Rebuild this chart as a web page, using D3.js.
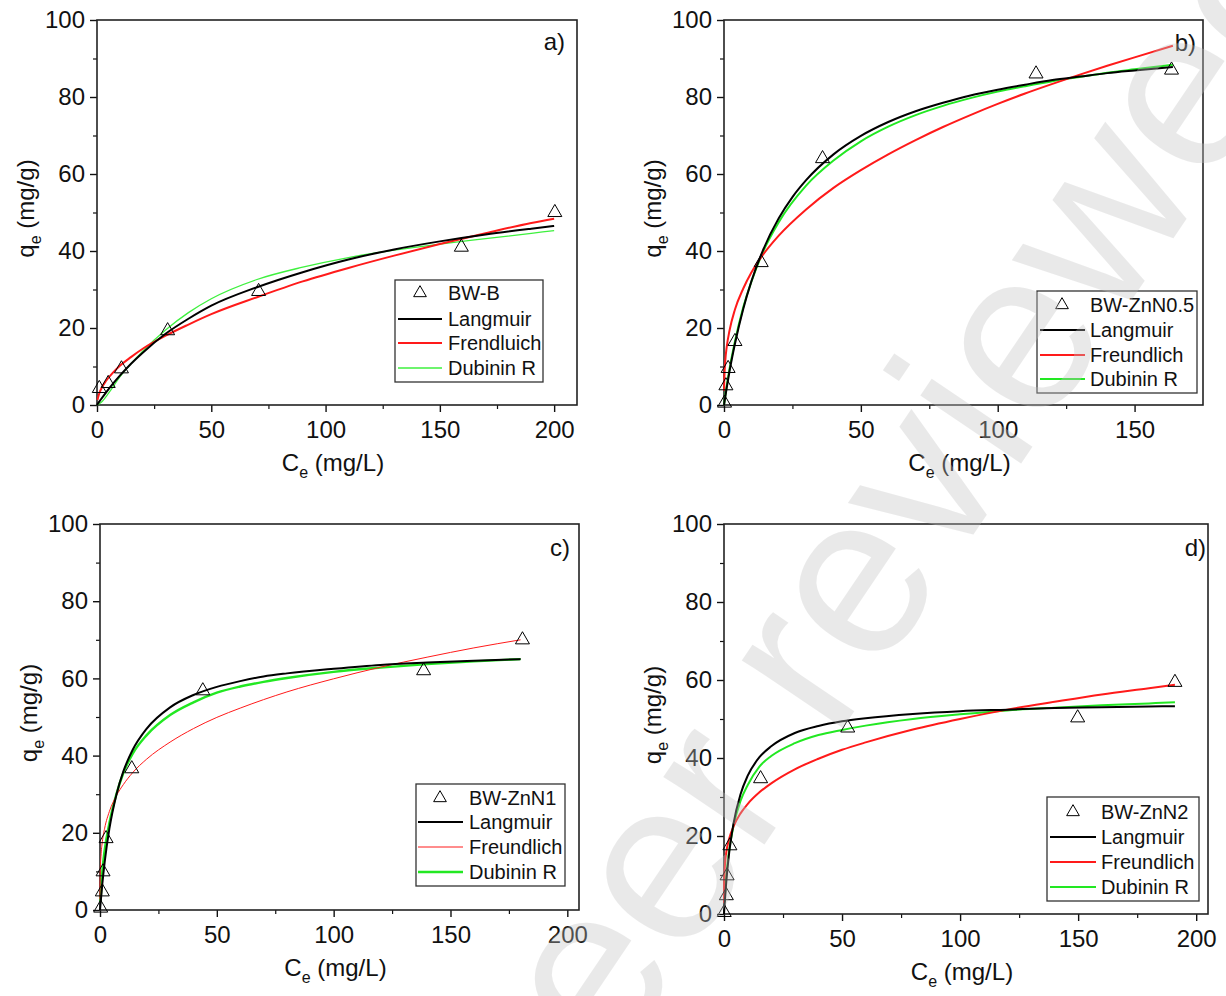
<!DOCTYPE html>
<html><head><meta charset="utf-8">
<script src="https://cdn.jsdelivr.net/npm/d3@7"></script>
<style>
body{margin:0;background:#fff}
svg{display:block}
text{font-family:"Liberation Sans",Arial,sans-serif}
</style>
</head><body>
<svg id="chart" width="1226" height="996"></svg>
<script>
// ---------------- DATA ----------------
const yTickValues = [0, 20, 40, 60, 80, 100];
const xTicksA = [0, 50, 100, 150, 200];
const xTicksB = [0, 50, 100, 150];
const xTicksC = [0, 50, 100, 150, 200];
const xTicksD = [0, 50, 100, 150, 200];
const panelLabels = ["a)", "b)", "c)", "d)"];
const sampleNames = ["BW-B", "BW-ZnN0.5", "BW-ZnN1", "BW-ZnN2"];
const modelNamesA = ["Langmuir", "Frendluich", "Dubinin R"];
const modelNames = ["Langmuir", "Freundlich", "Dubinin R"];

// Panel a (BW-B)
const pointsA = [[1,4.3],[4.9,5.6],[10.7,9.4],[30.9,19.3],[70.7,29.5],[159.4,41],[200.3,50]];
const langmuirA = [[0,0],[1,0.86],[2,1.69],[4,3.3],[7,5.56],[10,7.65],[15,10.8],[20,13.6],[30,18.5],[40,22.4],[50,25.8],[70,30.6],[90,34.5],[110,37.8],[130,40.4],[150,42.5],[170,44.3],[190,45.8],[200,46.5]];
const freundlichA = [[0.2,1.3],[1,3.05],[2,4.4],[4,6.3],[7,8.4],[10,10.2],[15,12.5],[20,14.6],[30,18.0],[40,20.9],[50,23.6],[70,28.0],[90,32.1],[110,35.6],[130,38.8],[150,41.8],[170,44.6],[190,47.3],[200,48.4]];
const dubininA = [[0,0],[2,0.8],[5,3.0],[10,7.3],[15,10.8],[20,14.0],[30,19.5],[40,24],[50,27.6],[70,32.6],[90,35.8],[110,38.3],[130,40.2],[150,41.8],[170,43.2],[190,44.6],[200,45.3]];

// Panel b (BW-ZnN0.5)
const pointsB = [[0.2,0.5],[0.7,5],[1.5,9.5],[4,16.5],[13.6,37],[36,64],[114,86],[163.5,87]];
const langmuirB = [[0,0],[1,4.5],[2,8.7],[4,15.9],[7,24.9],[10,32.1],[14,39.8],[20,48.5],[25,54],[30,58.4],[40,65.1],[50,69.9],[60,73.5],[70,76.3],[80,78.5],[90,80.4],[100,81.9],[110,83.2],[120,84.4],[130,85.3],[140,86.2],[150,86.9],[164,87.8]];
const freundlichB = [[0.02,3.7],[0.1,6.6],[0.5,11.8],[1,15.1],[2,19.3],[4,24.8],[7,30.2],[10,34.4],[14,38.8],[20,44.0],[30,50.8],[40,56.4],[50,61.0],[60,65.1],[70,68.8],[80,72.2],[90,75.3],[100,78.2],[110,80.9],[120,83.4],[130,85.8],[140,88.1],[150,90.3],[164,93.3]];
const dubininB = [[0,0],[1,5],[2,9.3],[4,16.5],[7,25.3],[10,32],[14,39.4],[20,47.5],[30,57],[40,63.5],[50,68.5],[60,72.3],[70,75.3],[80,77.7],[90,79.7],[100,81.4],[110,82.8],[120,84.1],[130,85.2],[140,86.3],[150,87.2],[164,88.4]];

// Panel c (BW-ZnN1)
const pointsC = [[0.3,0.5],[1,4.7],[1.3,9.9],[2.6,18.5],[13.6,36.6],[44,56.8],[138.5,62],[180.8,70]];
const langmuirC = [[0,0],[1,6.8],[2,12.4],[4,21],[7,29.8],[10,35.9],[14,41.5],[20,47],[30,52.5],[40,55.7],[50,57.8],[60,59.3],[70,60.5],[80,61.3],[100,62.5],[120,63.5],[140,64.1],[160,64.6],[180,65]];
const freundlichC = [[0.001,2.8],[0.01,5.2],[0.1,9.6],[0.5,14.7],[1,17.7],[2,21.2],[4,25.5],[7,29.6],[10,32.5],[14,35.6],[20,39.1],[30,43.5],[40,47.0],[50,49.9],[60,52.3],[70,54.5],[80,56.5],[100,59.9],[120,62.9],[140,65.5],[160,67.9],[180,70.0]];
const dubininC = [[0.2,2],[1,10],[2,15.5],[4,22.5],[7,30],[10,35.5],[14,40.5],[20,45.3],[30,50.5],[40,53.8],[50,56.3],[60,57.9],[70,59.1],[80,60.1],[100,61.7],[120,62.8],[140,63.7],[160,64.4],[180,65]];

// Panel d (BW-ZnN2)
const pointsD = [[0.1,0.4],[1,4.7],[1.3,9.8],[2.5,17.5],[15.5,34.7],[52.4,47.7],[149.8,50.3],[191,59.4]];
const langmuirD = [[0,0],[1,8.5],[2,14.7],[4,23.1],[7,30.7],[10,35.4],[15,40.2],[20,43],[30,46.4],[40,48.2],[50,49.4],[60,50.2],[80,51.3],[100,52],[120,52.4],[140,52.8],[160,53],[180,53.2],[191,53.3]];
const freundlichD = [[0.001,2.8],[0.01,5.0],[0.1,8.9],[0.5,13.3],[1,15.9],[2,18.9],[4,22.4],[7,25.8],[10,28.2],[15,31.2],[20,33.5],[30,37.1],[40,39.8],[50,42.1],[60,44.0],[80,47.3],[100,50.0],[120,52.4],[140,54.4],[160,56.3],[180,57.9],[191,58.8]];
const dubininD = [[0.2,3],[1,10],[2,15.5],[4,22.5],[7,29],[10,33],[15,37.8],[20,40.5],[30,43.8],[40,45.9],[50,47.2],[60,48.3],[80,50],[100,51.2],[120,52.2],[140,52.9],[160,53.5],[180,54.0],[191,54.3]];

const xMaxes = [210, 175, 205, 205];

// ---------------- LAYOUT ----------------
const svg = d3.select("#chart");
const panels = [
  {plot:{l:97,r:577,t:20,b:405}, xMax:xMaxes[0], xTicks:xTicksA, pts:pointsA, lang:langmuirA, freu:freundlichA, dub:dubininA,
   names:modelNamesA, legend:{x:395,y:280,w:148,h:102,tri:420,l0:398,l1:442,tx:448,rows:[293,319,343,368]},
   lbl:{x:565,y:50}, widths:{lang:2,freu:2,dub:1.3}, green:"#3ef03e"},
  {plot:{l:724,r:1203,t:20,b:405}, xMax:xMaxes[1], xTicks:xTicksB, pts:pointsB, lang:langmuirB, freu:freundlichB, dub:dubininB,
   names:modelNames, legend:{x:1037,y:291,w:160,h:102,tri:1062,l0:1040,l1:1085,tx:1090,rows:[305,330,355,379]},
   lbl:{x:1196,y:51}, widths:{lang:2,freu:2,dub:2}, green:"#22e822"},
  {plot:{l:100,r:579,t:524,b:910}, xMax:xMaxes[2], xTicks:xTicksC, pts:pointsC, lang:langmuirC, freu:freundlichC, dub:dubininC,
   names:modelNames, legend:{x:416,y:784,w:149,h:102,tri:440,l0:418,l1:463,tx:469,rows:[798,822,847,872]},
   lbl:{x:570,y:556}, widths:{lang:2,freu:1,dub:2.4}, green:"#22e822"},
  {plot:{l:724,r:1208,t:524,b:914}, xMax:xMaxes[3], xTicks:xTicksD, pts:pointsD, lang:langmuirD, freu:freundlichD, dub:dubininD,
   names:modelNames, legend:{x:1047,y:797,w:152,h:104,tri:1073,l0:1050,l1:1096,tx:1101,rows:[812,837,862,887]},
   lbl:{x:1206,y:556}, widths:{lang:2,freu:2,dub:2}, green:"#22e822"}
];

panels.forEach((p, i) => {
  const P = p.plot;
  const x = d3.scaleLinear().domain([0, p.xMax]).range([P.l, P.r]);
  const y = d3.scaleLinear().domain([0, 100]).range([P.b, P.t]);
  const g = svg.append("g");

  // minor ticks
  const xMinor = d3.range(25, p.xMax, 25).filter(v => v % 50 !== 0);
  const yMinor = [10, 30, 50, 70, 90];
  g.append("g").attr("transform", `translate(0,${P.b})`)
    .call(d3.axisBottom(x).tickValues(xMinor).tickSize(4).tickSizeOuter(0).tickFormat(""))
    .call(a => a.select(".domain").remove())
    .selectAll("line").attr("stroke", "#111").attr("stroke-width", 1.2);
  g.append("g").attr("transform", `translate(${P.l},0)`)
    .call(d3.axisLeft(y).tickValues(yMinor).tickSize(4).tickSizeOuter(0).tickFormat(""))
    .call(a => a.select(".domain").remove())
    .selectAll("line").attr("stroke", "#111").attr("stroke-width", 1.2);

  // major ticks
  const xa = g.append("g").attr("transform", `translate(0,${P.b})`)
    .call(d3.axisBottom(x).tickValues(p.xTicks).tickSize(7).tickSizeOuter(0).tickPadding(9).tickFormat(d3.format("d")));
  xa.select(".domain").remove();
  xa.selectAll("line").attr("stroke", "#111").attr("stroke-width", 1.4);
  xa.selectAll("text").attr("font-size", 24).attr("fill", "#111").attr("font-family", '"Liberation Sans",Arial,sans-serif');

  const ya = g.append("g").attr("transform", `translate(${P.l},0)`)
    .call(d3.axisLeft(y).tickValues(yTickValues).tickSize(7).tickSizeOuter(0).tickPadding(5).tickFormat(d3.format("d")));
  ya.select(".domain").remove();
  ya.selectAll("line").attr("stroke", "#111").attr("stroke-width", 1.4);
  ya.selectAll("text").attr("font-size", 24).attr("fill", "#111").attr("font-family", '"Liberation Sans",Arial,sans-serif');

  // frame
  g.append("rect").attr("x", P.l).attr("y", P.t).attr("width", P.r - P.l).attr("height", P.b - P.t)
    .attr("fill", "none").attr("stroke", "#222").attr("stroke-width", 1.6);

  // axis titles
  const xt = g.append("text").attr("x", (P.l + P.r) / 2 - 4).attr("y", P.b + 66)
    .attr("text-anchor", "middle").attr("font-size", 24).attr("fill", "#111");
  xt.append("tspan").text("C");
  xt.append("tspan").attr("font-size", 16).attr("dy", 7).text("e");
  xt.append("tspan").attr("dy", -7).text(" (mg/L)");

  const yt = g.append("text")
    .attr("transform", `translate(${P.l - 63},${(P.t + P.b) / 2 - 4}) rotate(-90)`)
    .attr("text-anchor", "middle").attr("font-size", 24).attr("fill", "#111");
  yt.append("tspan").text("q");
  yt.append("tspan").attr("font-size", 16).attr("dy", 7).text("e");
  yt.append("tspan").attr("dy", -7).text(" (mg/g)");

  // panel label
  g.append("text").attr("x", p.lbl.x).attr("y", p.lbl.y).attr("text-anchor", "end")
    .attr("font-size", 24).attr("fill", "#111").text(panelLabels[i]);

  // curves
  const line = d3.line().x(d => x(d[0])).y(d => y(d[1])).curve(d3.curveMonotoneX);
  g.append("path").datum(p.dub).attr("d", line).attr("fill", "none")
    .attr("stroke", p.green).attr("stroke-width", p.widths.dub);
  g.append("path").datum(p.freu).attr("d", line).attr("fill", "none")
    .attr("stroke", "#ff1a1a").attr("stroke-width", p.widths.freu);
  g.append("path").datum(p.lang).attr("d", line).attr("fill", "none")
    .attr("stroke", "#000").attr("stroke-width", p.widths.lang);

  // points
  const tri = d3.symbol().type(d3.symbolTriangle).size(85);
  g.selectAll(".pt").data(p.pts).enter().append("path")
    .attr("transform", d => `translate(${x(d[0])},${y(d[1])})`)
    .attr("d", tri).attr("fill", "none").attr("stroke", "#000").attr("stroke-width", 1);

  // legend
  const L = p.legend;
  const lg = g.append("g");
  lg.append("rect").attr("x", L.x).attr("y", L.y).attr("width", L.w).attr("height", L.h)
    .attr("fill", "#fff").attr("stroke", "#333").attr("stroke-width", 1.3);
  lg.append("path").attr("transform", `translate(${L.tri},${L.rows[0]})`)
    .attr("d", d3.symbol().type(d3.symbolTriangle).size(70)).attr("fill", "none")
    .attr("stroke", "#000").attr("stroke-width", 1);
  const cols = ["#000", "#ff1a1a", p.green];
  const ws = [p.widths.lang, p.widths.freu, p.widths.dub];
  p.names.forEach((n, k) => {
    lg.append("line").attr("x1", L.l0).attr("x2", L.l1).attr("y1", L.rows[k + 1]).attr("y2", L.rows[k + 1])
      .attr("stroke", cols[k]).attr("stroke-width", ws[k]);
  });
  [sampleNames[i]].concat(p.names).forEach((n, k) => {
    lg.append("text").attr("x", L.tx).attr("y", L.rows[k]).attr("dy", "0.36em")
      .attr("font-size", 20).attr("fill", "#111").text(n);
  });
});

// watermark
svg.append("text")
  .attr("transform", "translate(878,532) rotate(-56)")
  .attr("text-anchor", "middle").attr("dy", "0.35em")
  .attr("font-size", 230).attr("fill", "rgb(195,195,195)").attr("opacity", 0.35)
  .text("peer reviewed");
</script>
</body></html>
